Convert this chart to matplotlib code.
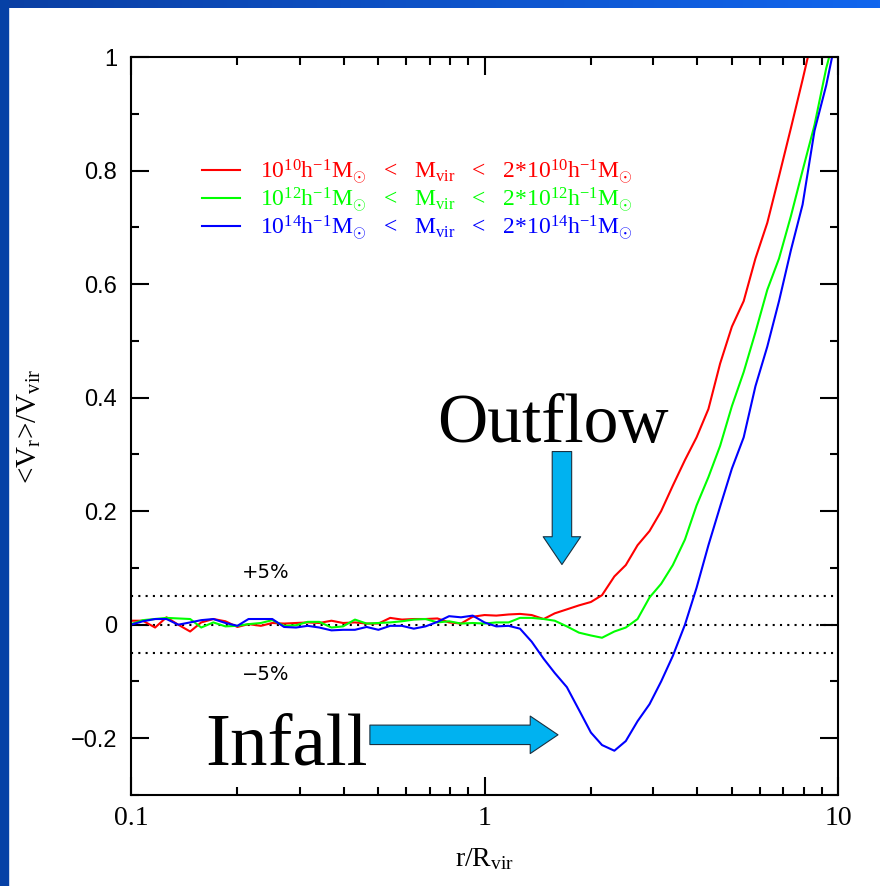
import numpy as np
import matplotlib
matplotlib.use('Agg')
import matplotlib.pyplot as plt
from matplotlib.patches import Rectangle
from matplotlib.colors import LinearSegmentedColormap
from matplotlib.ticker import FixedLocator, FuncFormatter, NullFormatter

plt.rcParams['mathtext.fontset'] = 'custom'
plt.rcParams['mathtext.rm'] = 'Liberation Serif'
plt.rcParams['mathtext.it'] = 'Liberation Serif:italic'
plt.rcParams['mathtext.bf'] = 'Liberation Serif:bold'

# radial bins r / R_vir
r = [0.100, 0.108, 0.117, 0.126, 0.136, 0.147, 0.158, 0.171, 0.185, 0.200,
     0.215, 0.233, 0.251, 0.271, 0.293, 0.316, 0.341, 0.369, 0.398, 0.430,
     0.464, 0.501, 0.541, 0.584, 0.631, 0.681, 0.736, 0.794, 0.858, 0.926,
     1.00, 1.08, 1.17, 1.26, 1.36, 1.47, 1.58, 1.71, 1.85, 2.00,
     2.15, 2.33, 2.51, 2.71, 2.93, 3.16, 3.41, 3.69, 3.98, 4.30,
     4.64, 5.01, 5.41, 5.84, 6.31, 6.81, 7.36, 7.94, 8.58, 9.26, 10.0]

# <V_r>/V_vir for three halo mass bins
v_1e10 = [0.007, 0.007, -0.005, 0.013, 0.000, -0.012, 0.004, 0.010, 0.006, -0.004,
          0.001, -0.002, 0.003, 0.002, 0.003, 0.004, 0.003, 0.007, 0.003, 0.004,
          0.002, 0.002, 0.012, 0.009, 0.010, 0.010, 0.011, 0.004, 0.002, 0.014,
          0.017, 0.016, 0.018, 0.019, 0.017, 0.010, 0.020, 0.027, 0.034, 0.040,
          0.052, 0.085, 0.105, 0.140, 0.165, 0.200, 0.245, 0.290, 0.330, 0.380,
          0.460, 0.525, 0.570, 0.645, 0.708, 0.790, 0.875, 0.960, 1.050, 1.130, 1.200]
v_1e12 = [0.001, 0.008, 0.010, 0.012, 0.011, 0.010, -0.005, 0.004, -0.003, -0.002,
          0.001, 0.003, 0.008, -0.002, -0.001, 0.005, 0.005, -0.005, -0.003, 0.009,
          0.002, 0.003, 0.004, 0.006, 0.009, 0.010, 0.004, 0.006, 0.002, 0.003,
          0.002, 0.004, 0.004, 0.012, 0.012, 0.010, 0.007, -0.003, -0.014, -0.019,
          -0.023, -0.012, -0.005, 0.010, 0.048, 0.072, 0.105, 0.150, 0.210, 0.260,
          0.315, 0.385, 0.445, 0.515, 0.590, 0.645, 0.720, 0.800, 0.880, 0.980, 1.060]
v_1e14 = [0.000, 0.006, 0.010, 0.010, 0.000, 0.004, 0.008, 0.010, 0.003, -0.002,
          0.010, 0.010, 0.010, -0.004, -0.005, -0.002, -0.005, -0.010, -0.009, -0.009,
          -0.004, -0.009, -0.002, -0.002, -0.007, -0.003, 0.005, 0.015, 0.013, 0.016,
          0.004, -0.003, -0.002, -0.007, -0.030, -0.060, -0.085, -0.110, -0.150, -0.190,
          -0.212, -0.222, -0.205, -0.170, -0.140, -0.100, -0.055, 0.000, 0.065, 0.140,
          0.208, 0.275, 0.330, 0.420, 0.490, 0.570, 0.660, 0.740, 0.870, 0.950, 1.050]

mass_exp = [10, 12, 14]
colors = ['#ff0000', '#00ff00', '#0000ff']
band_levels = [0.05, 0.0, -0.05]

fig = plt.figure(figsize=(8.8, 8.86), dpi=100)

# slide frame (blue strip on the left and top)
fig.patches.append(Rectangle((0, 0), 0.0095, 1, transform=fig.transFigure,
                             color='#0641a6', zorder=0))
top = fig.add_axes([0, 1 - 8 / 886, 1, 8 / 886])
top.imshow(np.linspace(0, 1, 256)[None, :], aspect='auto',
           cmap=LinearSegmentedColormap.from_list('bar', ['#0a3fa3', '#1166ee']))
top.axis('off')

ax = fig.add_axes([131 / 880, 1 - 795 / 886, 707 / 880, 738 / 886])

gap = r'\ \ \,<\ \ \,'
for v, c, e in zip([v_1e10, v_1e12, v_1e14], colors, mass_exp):
    lab = (r'$\mathrm{10^{%d}h^{-1}M_{\odot}%sM_{vir}%s2{*}10^{%d}h^{-1}M_{\odot}}$'
           % (e, gap, gap, e))
    ax.plot(r, v, color=c, lw=1.5, label=lab)

for lev in band_levels:
    ax.axhline(lev, color='black', lw=1.5, ls=(0, (1, 2.5)), zorder=1)

ax.set_xscale('log')
ax.set_xlim(0.1, 10)
ax.set_ylim(-0.3, 1.0)

ax.xaxis.set_major_locator(FixedLocator([0.1, 1, 10]))
ax.xaxis.set_major_formatter(FuncFormatter(lambda x, p: '%g' % x))
ax.xaxis.set_minor_locator(FixedLocator([m * d for d in [0.1, 1] for m in range(2, 10)]))
ax.xaxis.set_minor_formatter(NullFormatter())
ax.yaxis.set_major_locator(FixedLocator([-0.2, 0, 0.2, 0.4, 0.6, 0.8, 1.0]))
ax.yaxis.set_major_formatter(FuncFormatter(lambda y, p: ('%g' % round(y, 2)).replace('-', '\u2212')))
ax.yaxis.set_minor_locator(FixedLocator([-0.3, -0.1, 0.1, 0.3, 0.5, 0.7, 0.9]))

ax.tick_params(which='both', direction='in', top=True, right=True, width=1.5, color='black')
ax.tick_params(which='major', length=13)
ax.tick_params(which='minor', length=6)
ax.tick_params(axis='y', which='major', pad=10, labelsize=17, labelfontfamily='Liberation Sans')
ax.tick_params(axis='x', which='major', pad=8, labelsize=20, labelfontfamily='Liberation Serif')
for s in ax.spines.values():
    s.set_linewidth(1.5)

ax.set_xlabel(r'r/R$_{\mathrm{vir}}$', family='Liberation Serif', fontsize=20)
ax.xaxis.set_label_coords(0.5, -(846 - 795) / 738)
ax.set_ylabel(r'<V$_{\mathrm{r}}$>/V$_{\mathrm{vir}}$', family='Liberation Serif', fontsize=21)
ax.yaxis.set_label_coords(-(131 - 43) / 707, 0.5)

leg = ax.legend(loc='upper left', bbox_to_anchor=(0.101, 0.864), frameon=False,
                fontsize=17, handlelength=1.6, handletextpad=0.85, labelspacing=-0.03,
                borderpad=0, borderaxespad=0)
for txt, c in zip(leg.get_texts(), colors):
    txt.set_color(c)

ax.text(0.241, 0.092, '+5%', fontsize=14, ha='center', va='center', family='DejaVu Sans')
ax.text(0.241, -0.088, '\u22125%', fontsize=14, ha='center', va='center', family='DejaVu Sans')

ax.text(0.734, 0.321, 'Outflow', fontsize=50, family='Liberation Serif', ha='left', va='baseline')
ax.text(0.162, -0.247, 'Infall', fontsize=54, family='Liberation Serif', ha='left', va='baseline')

arrow = dict(arrowstyle='simple,head_length=2.0,head_width=2.7,tail_width=1.4',
             fc='#00b2f0', ec='#1a3040', lw=0.8, shrinkA=0, shrinkB=0, mutation_scale=10)
ax.annotate('', xy=(1.656, 0.106), xytext=(1.656, 0.305), arrowprops=arrow)
ax.annotate('', xy=(1.614, -0.194), xytext=(0.474, -0.194), arrowprops=arrow)

fig.savefig('out.png', dpi=100, facecolor='white')
